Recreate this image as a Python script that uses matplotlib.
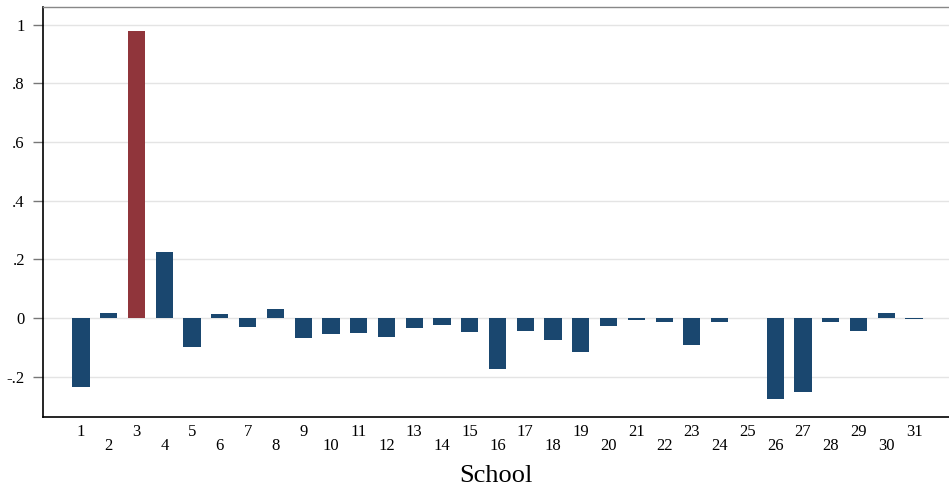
import numpy as np
import matplotlib.pyplot as plt

# ==============================
# Data
# ==============================
schools = list(range(1, 32))
values = [-0.237, 0.017, 0.980, 0.226, -0.099, 0.013, -0.032, 0.031, -0.069, -0.055,
          -0.050, -0.065, -0.033, -0.025, -0.049, -0.173, -0.043, -0.074, -0.116, -0.026,
          -0.006, -0.014, -0.091, -0.013, 0.0, -0.276, -0.253, -0.013, -0.044, 0.018,
          -0.004]
highlight = 3
yticks = [-0.2, 0, 0.2, 0.4, 0.6, 0.8, 1.0]
ytick_labels = ["-.2", "0", ".2", ".4", ".6", ".8", "1"]

blue = "#1a476f"
red = "#90353b"

plt.rcParams["font.family"] = ["Liberation Serif", "DejaVu Serif"]

fig = plt.figure(figsize=(9.49, 4.86), dpi=100)
ax = fig.add_axes([0.0453, 0.1426, 0.9547, 0.8424])

colors = [red if s == highlight else blue for s in schools]
ax.bar(schools, values, width=0.62, color=colors, zorder=3)

ax.set_xlim(-0.37, 32.26)
ax.set_ylim(-0.337, 1.06)

ax.set_yticks(yticks)
ax.set_yticklabels(ytick_labels, fontsize=12)
ax.tick_params(axis="y", length=7.5, width=1, color="#777777", pad=5.5)
ax.grid(axis="y", color="#e4e4e4", linewidth=1, zorder=0)

# odd schools on upper row, even schools on lower row
odd = [s for s in schools if s % 2 == 1]
even = [s for s in schools if s % 2 == 0]
ax.set_xticks(odd)
ax.set_xticklabels([str(s) for s in odd], fontsize=12)
ax.set_xticks(even, minor=True)
ax.set_xticklabels([str(s) for s in even], minor=True, fontsize=12)
ax.tick_params(axis="x", which="major", length=0, pad=5.5)
ax.tick_params(axis="x", which="minor", length=0, pad=15.4)

ax.set_xlabel("School", fontsize=19, labelpad=8)

ax.spines["right"].set_visible(False)
ax.spines["top"].set_color("#888888")
ax.spines["top"].set_linewidth(1)
ax.spines["left"].set_color("black")
ax.spines["bottom"].set_color("black")
ax.spines["left"].set_linewidth(1.2)
ax.spines["bottom"].set_linewidth(1.2)

fig.savefig("out.png", dpi=100)
